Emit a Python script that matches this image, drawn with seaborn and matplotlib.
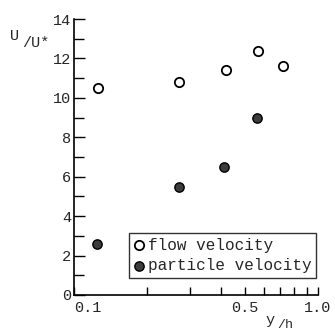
import matplotlib
matplotlib.use("Agg")
import matplotlib.pyplot as plt
import seaborn as sns
import pandas as pd

# data
flow_x = [0.125, 0.27, 0.42, 0.57, 0.72]
flow_u = [10.5, 10.8, 11.4, 12.4, 11.6]
part_x = [0.124, 0.27, 0.41, 0.56]
part_u = [2.6, 5.5, 6.5, 9.0]

x_ticks = [0.1, 0.2, 0.3, 0.4, 0.5, 0.6, 0.7, 0.8, 0.9, 1.0]
x_labels = ['0.1', '', '', '', '0.5', '', '', '', '', '1.0']
y_major = [0, 2, 4, 6, 8, 10, 12, 14]
y_minor = [1, 3, 5, 7, 9, 11, 13]

sns.set_style("ticks")
plt.rcParams['font.family'] = ['Liberation Mono', 'DejaVu Sans']
plt.rcParams['font.size'] = 11

flow = pd.DataFrame({'y_h': flow_x, 'u': flow_u})
part = pd.DataFrame({'y_h': part_x, 'u': part_u})

fig = plt.figure(figsize=(3.35, 3.32), dpi=100)
ax = fig.add_axes([74 / 335, 37 / 332, 244 / 335, 276 / 332])

sns.scatterplot(data=flow, x='y_h', y='u', ax=ax, s=45, color='white',
                edgecolor='black', linewidth=1.3, label='flow velocity', zorder=3)
sns.scatterplot(data=part, x='y_h', y='u', ax=ax, s=45, color='#3c3c3c',
                edgecolor='black', linewidth=1.0, label='particle velocity', zorder=3)

ax.set_xscale('log')
ax.set_xlim(0.1, 1.0)
ax.set_ylim(0, 14)
ax.set_xticks(x_ticks)
ax.set_xticklabels(x_labels)
ax.xaxis.set_minor_locator(matplotlib.ticker.NullLocator())
ax.set_yticks(y_major)
ax.set_yticks(y_minor, minor=True)
ax.tick_params(axis='x', which='major', direction='in', length=6, width=1.0,
               pad=4, labelsize=11, color='black', bottom=True)
ax.tick_params(axis='y', which='major', direction='in', length=8, width=1.0,
               pad=2, labelsize=11, color='black', left=True)
ax.tick_params(axis='y', which='minor', direction='in', length=7, width=1.0,
               color='black', left=True)
ax.get_xticklabels()[0].set_horizontalalignment('left')
ax.set_xlabel('')
ax.set_ylabel('')

sns.despine(ax=ax)
for side in ['left', 'bottom']:
    ax.spines[side].set_color('black')
    ax.spines[side].set_linewidth(1.2)

leg = ax.legend(loc='lower right', bbox_to_anchor=(0.992, 0.062),
                borderaxespad=0, frameon=True, fancybox=False,
                handlelength=0.6, handletextpad=0.25, borderpad=0.3,
                labelspacing=0.35, fontsize=11.5)
leg.get_frame().set_edgecolor('black')
leg.get_frame().set_linewidth(1.0)

# axis titles drawn like the original fraction labels
fig.text(15 / 335, 1 - 36 / 332, 'U', ha='center', va='center', fontsize=11)
fig.text(36 / 335, 1 - 43 / 332, '/U*', ha='center', va='center', fontsize=11)
fig.text(270 / 335, 1 - 320 / 332, 'y', ha='center', va='center', fontsize=11)
fig.text(285 / 335, 1 - 325 / 332, '/h', ha='center', va='center', fontsize=9.5)

fig.savefig('out.png', dpi=100)
